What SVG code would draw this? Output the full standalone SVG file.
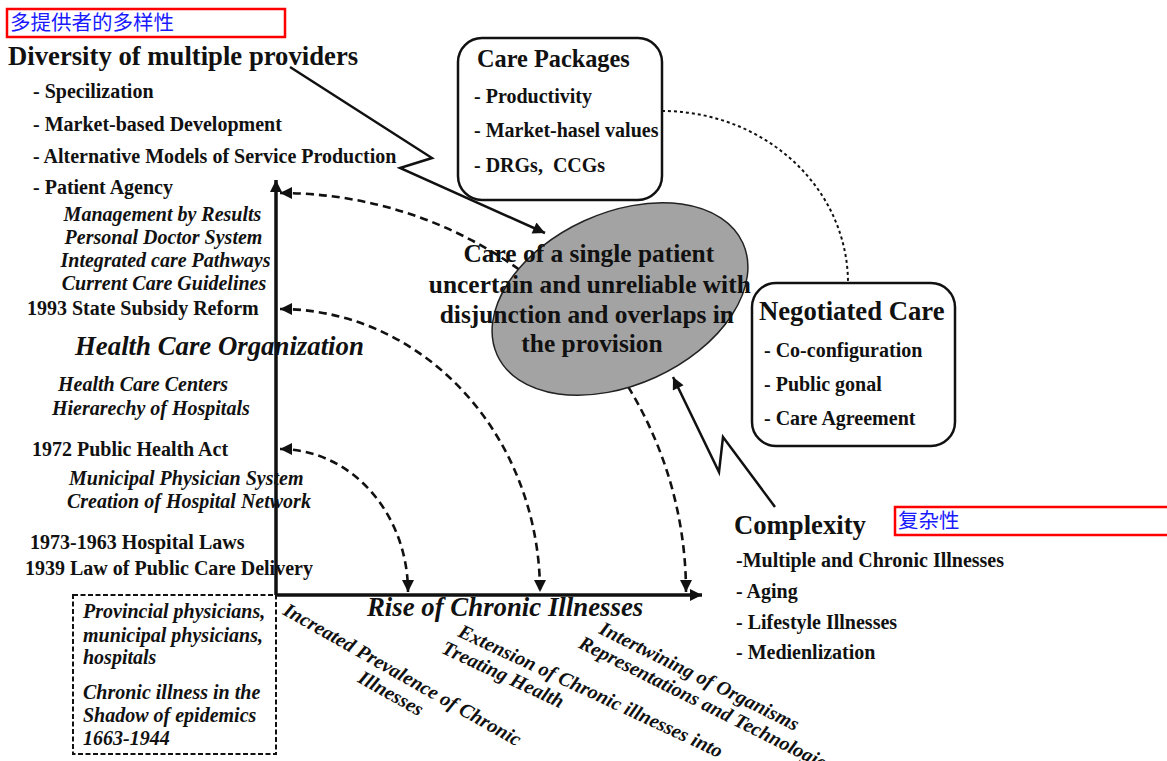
<svg xmlns="http://www.w3.org/2000/svg" width="1167" height="761" viewBox="0 0 1167 761">
<style>
  text { font-family: "Liberation Serif", "Times New Roman", serif; fill: #111; }
  .b { font-weight: bold; font-size: 20px; }
  .bi { font-weight: bold; font-style: italic; font-size: 20px; }
  .h { font-weight: bold; font-size: 26.7px; }
  .hi { font-weight: bold; font-style: italic; font-size: 26.8px; }
  .cj { font-family: "Noto Sans CJK SC", "Noto Sans", sans-serif; fill: #1a1aff; font-size: 20.5px; }
  .red { fill: none; stroke: #ff0000; stroke-width: 2.5; }
  .box { fill: #fff; stroke: #111; stroke-width: 2.5; }
  .axis { fill: none; stroke: #111; stroke-width: 3.5; }
  .dash { fill: none; stroke: #111; stroke-width: 2.6; stroke-dasharray: 8 5; }
  .dot { fill: none; stroke: #111; stroke-width: 2; stroke-dasharray: 3 3; }
  .solid { fill: none; stroke: #111; stroke-width: 2.5; }
</style>
<defs>
  <marker id="ahs" viewBox="0 0 10 10" refX="10" refY="5" markerWidth="14" markerHeight="12" markerUnits="userSpaceOnUse" orient="auto-start-reverse">
    <path d="M0,0 L10,5 L0,10 Z" fill="#111"/>
  </marker>
</defs>

<g id="annotations">
  <rect class="red" x="7" y="9" width="278" height="28"/>
  <text class="cj" x="10" y="30">多提供者的多样性</text>
  <rect class="red" x="895" y="507" width="280" height="28"/>
  <text class="cj" x="898" y="528">复杂性</text>
</g>

<g id="connectors">
  <path class="dash" d="M280,193 A406,399 0 0 1 686,592" marker-start="url(#ahs)" marker-end="url(#ahs)"/>
  <path class="dash" d="M280,309 A260,283 0 0 1 540,592" marker-start="url(#ahs)" marker-end="url(#ahs)"/>
  <path class="dash" d="M280,449 A128,143 0 0 1 408,592" marker-start="url(#ahs)" marker-end="url(#ahs)"/>
  <path class="dot" d="M662,111 A186,172 0 0 1 848,283"/>
  <path class="solid" d="M290,67 L432,158 L400,168 L545,233" marker-end="url(#ahs)"/>
  <path class="solid" d="M775,507 L723,437 L719,472 L673,377" marker-end="url(#ahs)"/>
</g>

<g id="axes">
  <path class="axis" d="M276,595 L276,180" marker-end="url(#ahs)"/>
  <path class="axis" d="M276,595 L702,595" marker-end="url(#ahs)"/>
</g>

<g id="care-single-patient">
  <ellipse cx="620" cy="299" rx="135" ry="86" transform="rotate(-24.5 620 299)" fill="#a3a3a3" stroke="#222" stroke-width="1.5"/>
  <text class="h" text-anchor="middle" style="font-size:25.4px">
    <tspan x="592" y="262">Care of a single patient</tspan>
    <tspan x="593" y="293">uncertain and unreliable with</tspan>
    <tspan x="590" y="323">disjunction and overlaps in</tspan>
    <tspan x="592" y="352">the provision</tspan>
  </text>
</g>

<g id="diversity">
  <text class="h" x="8" y="65">Diversity of multiple providers</text>
  <text class="b" x="33" y="98">- Specilization</text>
  <text class="b" x="33" y="131">- Market-based Development</text>
  <text class="b" x="33" y="163">- Alternative Models of Service Production</text>
  <text class="b" x="33" y="194">- Patient Agency</text>
  <text class="bi" text-anchor="middle">
    <tspan x="165" y="221">Management by Results</tspan>
    <tspan x="166" y="244">Personal Doctor System</tspan>
    <tspan x="168" y="267">Integrated care Pathways</tspan>
    <tspan x="164" y="290">Current Care Guidelines</tspan>
  </text>
</g>

<g id="health-care-organization">
  <text class="b" x="27" y="315">1993 State Subsidy Reform</text>
  <text class="hi" x="75" y="355">Health Care Organization</text>
  <text class="bi" x="58" y="391">Health Care Centers</text>
  <text class="bi" x="52" y="415">Hierarechy of Hospitals</text>
  <text class="b" x="32" y="456">1972 Public Health Act</text>
  <text class="bi" x="69" y="485">Municipal Physician System</text>
  <text class="bi" x="67" y="508">Creation of Hospital Network</text>
  <text class="b" x="30" y="549">1973-1963 Hospital Laws</text>
  <text class="b" x="25" y="575">1939 Law of Public Care Delivery</text>
</g>

<g id="care-packages">
  <rect class="box" x="458" y="38" width="204" height="162" rx="24"/>
  <text class="h" x="477" y="67" style="font-size:24.3px">Care Packages</text>
  <text class="b" x="474" y="103">- Productivity</text>
  <text class="b" x="474" y="137">- Market-hasel values</text>
  <text class="b" x="474" y="172">- DRGs,&#160; CCGs</text>
</g>

<g id="negotiated-care">
  <rect class="box" x="752" y="283" width="203" height="163" rx="24"/>
  <text class="h" x="759" y="320">Negotiated Care</text>
  <text class="b" x="764" y="357">- Co-configuration</text>
  <text class="b" x="764" y="391">- Public gonal</text>
  <text class="b" x="764" y="425">- Care Agreement</text>
</g>

<g id="complexity">
  <text class="h" x="734" y="534">Complexity</text>
  <text class="b" x="736" y="567">-Multiple and Chronic Illnesses</text>
  <text class="b" x="736" y="598">- Aging</text>
  <text class="b" x="736" y="629">- Lifestyle Illnesses</text>
  <text class="b" x="736" y="659">- Medienlization</text>
</g>

<g id="rise-chronic">
  <text class="hi" x="367" y="616">Rise of Chronic Illnesses</text>
  <g transform="translate(282,614) rotate(29.5)">
    <text class="bi" x="0" y="0">Increated Prevalence of Chronic</text>
    <text class="bi" x="134" y="22" text-anchor="middle">Illnesses</text>
  </g>
  <g transform="translate(457,636) rotate(25)">
    <text class="bi" x="0" y="0">Extension of Chronic illnesses into</text>
    <text class="bi" x="-8" y="22">Treating Health</text>
  </g>
  <g transform="translate(598,633) rotate(26.5)">
    <text class="bi" x="0" y="0">Intertwining of Organisms</text>
    <text class="bi" x="-12" y="22">Representations and Technologies</text>
  </g>
</g>

<g id="epidemics-box">
  <rect x="73" y="595" width="203" height="159" fill="none" stroke="#111" stroke-width="2" stroke-dasharray="5 2.5"/>
  <text class="bi" x="83" y="618">Provincial physicians,</text>
  <text class="bi" x="83" y="642">municipal physicians,</text>
  <text class="bi" x="83" y="664">hospitals</text>
  <text class="bi" x="83" y="699">Chronic illness in the</text>
  <text class="bi" x="83" y="722">Shadow of epidemics</text>
  <text class="bi" x="83" y="745">1663-1944</text>
</g>
</svg>
